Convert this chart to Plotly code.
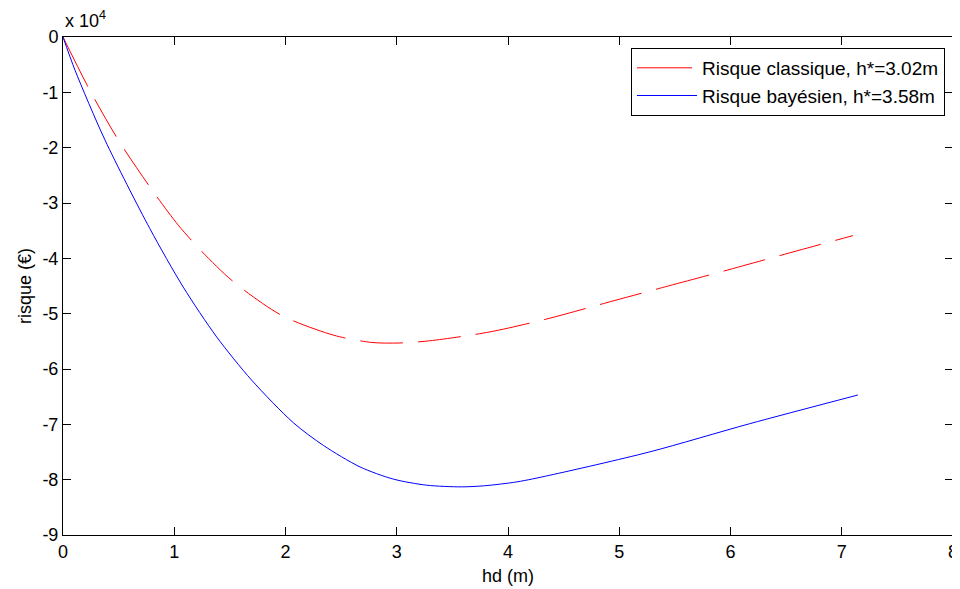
import plotly.graph_objects as go

# Values in units of 1e4 euros (axis shows "x 10^4")
hd_classique = [0, 0.243, 0.506, 0.806, 1.036, 1.25, 1.53, 1.965, 2.435, 2.774, 3.02, 3.297,
                3.836, 4.34, 4.944, 5.44, 5.94, 6.606, 7.10]
risque_classique = [0, -0.97, -1.89, -2.78, -3.40, -3.88, -4.42, -5.03, -5.39, -5.52, -5.53, -5.49,
                    -5.33, -5.10, -4.77, -4.50, -4.23, -3.86, -3.59]

hd_bayes = [0, 0.108, 0.377, 0.78, 1.081, 1.381, 1.695, 2.07, 2.34, 2.67, 2.97,
            3.27, 3.58, 3.79, 4.08, 4.376, 5.27, 6.17, 7.145]
risque_bayes = [0, -0.60, -1.86, -3.46, -4.52, -5.42, -6.20, -6.97, -7.38, -7.77, -7.99,
                -8.10, -8.13, -8.11, -8.04, -7.92, -7.50, -6.99, -6.47]

x_ticks = [0, 1, 2, 3, 4, 5, 6, 7, 8]
y_ticks = [0, -1, -2, -3, -4, -5, -6, -7, -8, -9]

label_classique = "Risque classique, h*=3.02m"
label_bayes = "Risque bayésien, h*=3.58m"

FONT = "Liberation Sans, Arial, sans-serif"

fig = go.Figure()
fig.add_trace(go.Scatter(x=hd_classique, y=risque_classique, mode="lines", name=label_classique,
                         line=dict(color="#ff0000", width=1, dash="55px,15px,43px,15px,43px,15px",
                                   shape="spline", smoothing=0.8)))
fig.add_trace(go.Scatter(x=hd_bayes, y=risque_bayes, mode="lines", name=label_bayes,
                         line=dict(color="#0000ff", width=1, shape="spline", smoothing=0.8)))

axis_common = dict(showgrid=False, zeroline=False, showline=True, linecolor="black", linewidth=1,
                   mirror="ticks", ticks="inside", ticklen=8, tickcolor="black", tickwidth=1,
                   tickfont=dict(family=FONT, size=18, color="black"))

fig.update_xaxes(range=[0, 8], tickvals=x_ticks, ticktext=[str(v) for v in x_ticks],
                 title=dict(text="hd (m)", font=dict(family=FONT, size=18, color="black"), standoff=8),
                 **axis_common)
fig.update_yaxes(range=[-9, 0], tickvals=y_ticks, ticktext=[str(v) for v in y_ticks],
                 title=dict(text="risque (€)", font=dict(family=FONT, size=18, color="black"), standoff=6),
                 **axis_common)

fig.add_annotation(text="x 10<sup>4</sup>", xref="paper", yref="paper", x=0, y=1, xanchor="left",
                   yanchor="bottom", yshift=4, showarrow=False,
                   font=dict(family=FONT, size=18, color="black"))

# page body has ~8px default margin; compensate so the plot area sits where the reference has it
fig.update_layout(
    width=952, height=581,
    margin=dict(l=55, r=7, t=29, b=54, autoexpand=False),
    paper_bgcolor="white", plot_bgcolor="white",
    font=dict(family=FONT, size=18, color="black"),
    legend=dict(x=0.991, y=0.978, xanchor="right", yanchor="top", bgcolor="white",
                bordercolor="black", borderwidth=1, font=dict(family=FONT, size=19, color="black"),
                tracegroupgap=0, itemwidth=60),
    showlegend=True,
)

fig.write_html("out.html")
